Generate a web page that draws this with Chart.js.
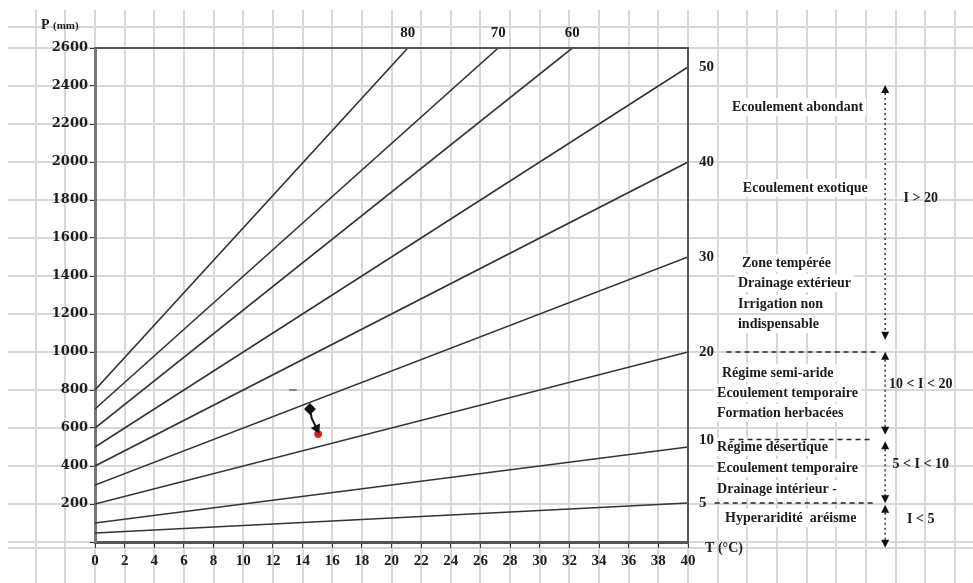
<!DOCTYPE html>
<html>
<head>
<meta charset="utf-8">
<script src="https://cdn.jsdelivr.net/npm/chart.js@4.4.1/dist/chart.umd.min.js"></script>
<style>
  html, body { margin: 0; padding: 0; background: #fff; }
</style>
</head>
<body>
<canvas id="myChart" width="973" height="583"></canvas>
<script>
// De Martonne index lines: P at T=0 and where each line stops
var indexValues = [5, 10, 20, 30, 40, 50, 60, 70, 80];
var startP = [47, 100, 200, 300, 400, 500, 600, 700, 800];
var endT = [40, 40, 40, 40, 40, 40, 32.2, 27.2, 21.1];
var endP = [205, 500, 1000, 1500, 2000, 2500, 2600, 2600, 2600];

// station shift (black diamond -> red dot)
var pathT = [14.5, 14.62, 14.95];
var pathP = [700, 650, 598];
var redT = [15.05];
var redP = [568];
var dashT = [13.1, 13.6];
var dashP = [800, 800];

// regime boundaries on the right
var boundP = [1000, 540, 205];
var boundFromT = [42.6, 42.8, 41.8];
var boundToT = [52.8, 52.5, 52.5];

var rangeT = 53.3;
var rangeTopP = [2390, 985, 515, 180];
var rangeBottomP = [1080, 580, 220, -15];
var rangeText = ['I > 20', '10 < I < 20', '5 < I < 10', 'I < 5'];
var rangeTextT = 55.7;
var rangeTextP = [1811, 832, 411, 121];

var noteText = ['Ecoulement abondant', 'Ecoulement exotique', 'Zone tempérée', 'Drainage extérieur',
  'Irrigation non', 'indispensable', 'Régime semi-aride', 'Ecoulement temporaire', 'Formation herbacées',
  'Régime désertique', 'Ecoulement temporaire', 'Drainage intérieur -', 'Hyperaridité  aréisme'];
var noteT = [42.97, 43.7, 43.64, 43.37, 43.37, 43.37, 42.29, 41.96, 41.96, 41.96, 41.96, 41.96, 42.5];
var noteP = [2289, 1863, 1468, 1363, 1253, 1147, 889, 784, 679, 500, 389, 279, 126];

var gridExtraP = [2710, -32];

var serif = "'Liberation Serif', 'Times New Roman', serif";

var dataset = [];
for (let i = 0; i < indexValues.length; i++) {
  dataset.push({
    label: 'I = ' + indexValues[i],
    data: [{x: 0, y: startP[i]}, {x: endT[i], y: endP[i]}],
    borderColor: '#333',
    borderWidth: 1.6,
    pointRadius: 0
  });
}
dataset.push({
  label: 'dash',
  data: dashT.map(function (t, i) { return {x: t, y: dashP[i]}; }),
  borderColor: '#888',
  borderWidth: 2,
  pointRadius: 0
});
dataset.push({
  label: 'shift',
  data: pathT.map(function (t, i) { return {x: t, y: pathP[i]}; }),
  borderColor: '#111',
  borderWidth: 2,
  pointStyle: ['rectRot', 'circle', 'triangle'],
  pointRadius: [4.5, 0, 4],
  rotation: [0, 0, 154],
  pointBackgroundColor: '#111',
  pointBorderColor: '#111'
});
dataset.push({
  label: 'red',
  data: redT.map(function (t, i) { return {x: t, y: redP[i]}; }),
  showLine: false,
  pointRadius: 3.5,
  pointBackgroundColor: '#f01010',
  pointBorderColor: '#f01010'
});
for (let i = 0; i < boundP.length; i++) {
  dataset.push({
    label: 'bound' + i,
    data: [{x: boundFromT[i], y: boundP[i]}, {x: boundToT[i], y: boundP[i]}],
    borderColor: '#222',
    borderWidth: 1.5,
    borderDash: [5, 4],
    pointRadius: 0,
    clip: false
  });
}
for (let i = 0; i < rangeTopP.length; i++) {
  dataset.push({
    label: 'range' + i,
    data: [{x: rangeT, y: rangeTopP[i]}, {x: rangeT, y: rangeBottomP[i]}],
    borderColor: '#333',
    borderWidth: 1.5,
    borderDash: [2, 3],
    pointRadius: 0,
    clip: false
  });
}

var paper = {
  id: 'paper',
  beforeDraw: function (c) {
    var ctx = c.ctx, x = c.scales.x, y = c.scales.y;
    ctx.save();
    ctx.fillStyle = '#fff';
    ctx.fillRect(0, 0, c.width, c.height);
    ctx.strokeStyle = '#d8d8d8';
    ctx.lineWidth = 2;
    ctx.beginPath();
    for (let t = -4; t <= 60; t += 2) {
      var px = Math.round(x.getPixelForValue(t));
      if (px > c.width) break;
      ctx.moveTo(px, 10); ctx.lineTo(px, c.height);
    }
    var ps = gridExtraP.slice();
    for (let p = 0; p <= 2600; p += 200) ps.push(p);
    ps.forEach(function (p) {
      var py = Math.round(y.getPixelForValue(p));
      ctx.moveTo(8, py); ctx.lineTo(c.width, py);
    });
    ctx.stroke();
    ctx.restore();
  },
  beforeDatasetsDraw: function (c) {
    var ctx = c.ctx, x = c.scales.x, y = c.scales.y;
    ctx.save();
    ctx.font = 'bold 14px ' + serif;
    ctx.fillStyle = '#fff';
    for (let i = 0; i < noteText.length; i++) {
      var w = ctx.measureText(noteText[i]).width;
      ctx.fillRect(x.getPixelForValue(noteT[i]) - 3, y.getPixelForValue(noteP[i]) - 9, w + 6, 18);
    }
    ctx.restore();
  },
  afterDraw: function (c) {
    var ctx = c.ctx, x = c.scales.x, y = c.scales.y, a = c.chartArea;
    ctx.save();
    // frame top and right
    ctx.strokeStyle = '#555';
    ctx.lineWidth = 2;
    ctx.beginPath();
    ctx.moveTo(a.left, a.top); ctx.lineTo(a.right, a.top); ctx.lineTo(a.right, a.bottom);
    ctx.stroke();

    ctx.fillStyle = '#1c1c1c';
    ctx.textBaseline = 'middle';
    // index labels
    ctx.font = 'bold 15px ' + serif;
    for (let i = 0; i < indexValues.length; i++) {
      if (endP[i] >= 2600) {
        ctx.textAlign = 'center';
        ctx.fillText(String(indexValues[i]), x.getPixelForValue(endT[i]), a.top - 15);
      } else {
        ctx.textAlign = 'left';
        ctx.fillText(String(indexValues[i]), x.getPixelForValue(endT[i]) + 11, y.getPixelForValue(endP[i]) - (indexValues[i] == 10 ? 7 : 0));
      }
    }
    // notes
    ctx.font = 'bold 14px ' + serif;
    ctx.textAlign = 'left';
    for (let i = 0; i < noteText.length; i++) {
      ctx.fillText(noteText[i], x.getPixelForValue(noteT[i]), y.getPixelForValue(noteP[i]));
    }
    ctx.textAlign = 'center';
    for (let i = 0; i < rangeText.length; i++) {
      ctx.fillText(rangeText[i], x.getPixelForValue(rangeTextT), y.getPixelForValue(rangeTextP[i]));
    }
    // arrow heads on the range lines
    var rx = x.getPixelForValue(rangeT);
    ctx.fillStyle = '#111';
    for (let i = 0; i < rangeTopP.length; i++) {
      var ty = y.getPixelForValue(rangeTopP[i]);
      var by = y.getPixelForValue(rangeBottomP[i]);
      ctx.beginPath();
      ctx.moveTo(rx, ty - 3); ctx.lineTo(rx - 4, ty + 5); ctx.lineTo(rx + 4, ty + 5); ctx.closePath();
      ctx.fill();
      ctx.beginPath();
      ctx.moveTo(rx, by + 3); ctx.lineTo(rx - 4, by - 5); ctx.lineTo(rx + 4, by - 5); ctx.closePath();
      ctx.fill();
    }
    // axis titles
    ctx.fillStyle = '#1c1c1c';
    ctx.textAlign = 'left';
    ctx.font = 'bold 14px ' + serif;
    ctx.fillText('T (°C)', x.getPixelForValue(41.15), y.getPixelForValue(-32));
    ctx.fillText('P', x.getPixelForValue(-3.64), y.getPixelForValue(2721));
    ctx.font = 'bold 11px ' + serif;
    ctx.fillText('(mm)', x.getPixelForValue(-3.64) + 12, y.getPixelForValue(2721) + 1);
    ctx.restore();
  }
};

var chart = new Chart(document.getElementById('myChart'), {
  type: 'line',
  data: { datasets: dataset },
  options: {
    responsive: false,
    animation: false,
    events: [],
    layout: { padding: { top: 48, right: 285, left: 0, bottom: 0 } },
    plugins: { legend: { display: false }, tooltip: { enabled: false } },
    scales: {
      x: {
        type: 'linear',
        min: 0,
        max: 40,
        afterFit: function (s) { s.height = 41; },
        border: { display: true, color: '#555', width: 3 },
        grid: { drawOnChartArea: false, drawTicks: true, tickLength: 6, color: '#333' },
        ticks: {
          stepSize: 2,
          autoSkip: false,
          maxRotation: 0,
          padding: 4,
          color: '#1c1c1c',
          font: { family: serif, size: 15, weight: 'bold' }
        }
      },
      y: {
        type: 'linear',
        min: 0,
        max: 2600,
        afterFit: function (s) { s.width = 95; },
        border: { display: true, color: '#777', width: 3 },
        grid: { drawOnChartArea: false, drawTicks: true, tickLength: 5, color: '#333' },
        ticks: {
          stepSize: 200,
          padding: 2,
          color: '#1c1c1c',
          font: { family: "'DejaVu Serif', serif", size: 13, weight: 'bold' },
          callback: function (v) { return v == 0 ? '' : v; }
        }
      }
    }
  },
  plugins: [paper]
});
</script>
</body>
</html>
